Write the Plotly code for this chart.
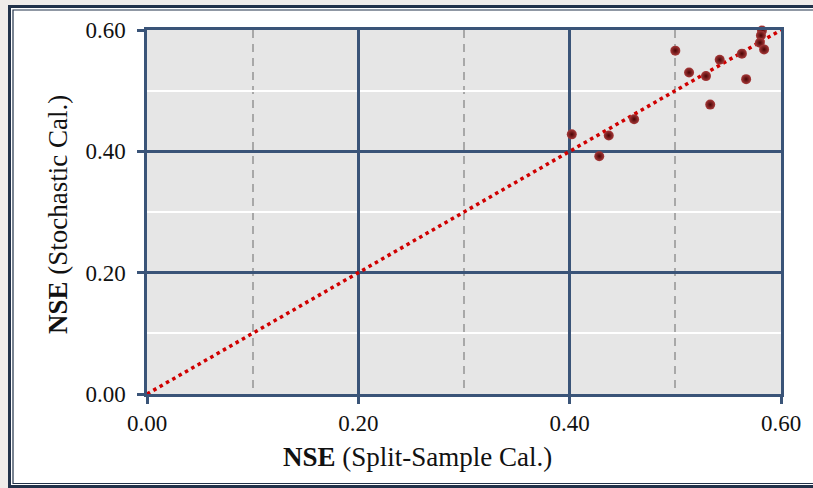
import plotly.graph_objects as go

# NSE of each catchment under the two calibration schemes
nse_split_sample = [0.402, 0.428, 0.437, 0.461, 0.500, 0.513, 0.529, 0.542, 0.563,
                    0.567, 0.533, 0.582, 0.581, 0.580, 0.584]
nse_stochastic = [0.428, 0.392, 0.426, 0.453, 0.566, 0.530, 0.524, 0.551, 0.561,
                  0.519, 0.477, 0.599, 0.591, 0.579, 0.568]

# 1:1 reference line
one_to_one = [0.0, 0.6]

tick_vals = [0.0, 0.2, 0.4, 0.6]
tick_text = ["0.00", "0.20", "0.40", "0.60"]

W, H = 813, 488
ML, MR, MT, MB = 147, 32, 30, 94
PW, PH = W - ML - MR, H - MT - MB

NAVY = "#3a5478"
FRAME = "#22324a"
SERIF = "Liberation Serif, Times New Roman, serif"


def px_x(px):
    return (px - ML) / PW


def px_y(py):
    return (H - MB - py) / PH


fig = go.Figure()

fig.add_trace(go.Scatter(
    x=one_to_one, y=one_to_one, mode="lines",
    line=dict(color="#d00000", width=3.5, dash="3.5px,3.8px"),
    hoverinfo="skip", showlegend=False, cliponaxis=False,
))

fig.add_trace(go.Scatter(
    x=nse_split_sample, y=nse_stochastic, mode="markers",
    marker=dict(size=10, color="#a83a3a", line=dict(width=0),
                gradient=dict(type="radial", color="#4a0404")),
    showlegend=False, cliponaxis=False,
))

axis_common = dict(
    range=[0, 0.6], tickvals=tick_vals, ticktext=tick_text,
    showgrid=True, gridcolor=NAVY, gridwidth=2.5,
    showline=True, linecolor=NAVY, linewidth=2.5, mirror=True,
    ticks="outside", ticklen=7, tickwidth=2.5, tickcolor=NAVY,
    zeroline=False, fixedrange=True,
    tickfont=dict(family=SERIF, size=23, color="#111111"),
)

fig.update_xaxes(**axis_common,
                 minor=dict(dtick=0.1, showgrid=True, gridcolor="#a8a8a8",
                            gridwidth=1.8, griddash="8px,6px", ticks=""))
fig.update_yaxes(**axis_common, ticklabelstandoff=7,
                 minor=dict(dtick=0.1, showgrid=True, gridcolor="#ffffff",
                            gridwidth=2, ticks=""))

shapes = [
    # white chart area inside the frame
    dict(type="rect", xref="paper", yref="paper", layer="below",
         x0=px_x(9.5), x1=px_x(W + 5), y0=px_y(486.5), y1=px_y(6.5),
         fillcolor="white", line=dict(width=0)),
    # grey plotting area
    dict(type="rect", xref="paper", yref="paper", layer="below",
         x0=0, x1=1, y0=0, y1=1, fillcolor="#e6e6e6", line=dict(width=0)),
    # double frame around the chart
    dict(type="rect", xref="paper", yref="paper", layer="above",
         x0=px_x(9.5), x1=px_x(W + 5), y0=px_y(486.5), y1=px_y(6.5),
         line=dict(color=FRAME, width=3)),
    dict(type="rect", xref="paper", yref="paper", layer="above",
         x0=px_x(13), x1=px_x(W + 2), y0=px_y(483.5), y1=px_y(10),
         line=dict(color=FRAME, width=1.2)),
]

annotations = [
    dict(text="<b>NSE</b> (Split-Sample Cal.)", xref="paper", yref="paper",
         x=px_x(417), y=px_y(457), xanchor="center", yanchor="middle",
         showarrow=False, font=dict(family=SERIF, size=27, color="#111111")),
    dict(text="<b>NSE</b> (Stochastic Cal.)", xref="paper", yref="paper",
         x=px_x(58), y=px_y(215), xanchor="center", yanchor="middle",
         textangle=-90, showarrow=False,
         font=dict(family=SERIF, size=27, color="#111111")),
]

fig.update_layout(
    width=W, height=H,
    margin=dict(l=ML, r=MR, t=MT, b=MB),
    paper_bgcolor="#f0ecea", plot_bgcolor="rgba(0,0,0,0)",
    shapes=shapes, annotations=annotations,
    showlegend=False,
)

fig.write_html("out.html")
